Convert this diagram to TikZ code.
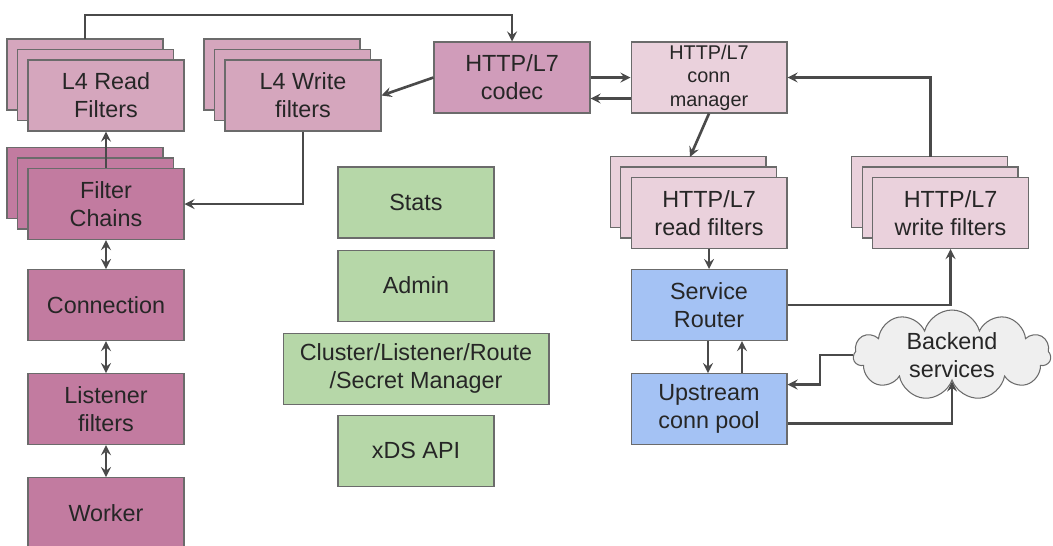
\documentclass[tikz,border=0pt]{standalone}
\usepackage{fontspec}
\setmainfont{Liberation Sans}
\usetikzlibrary{arrows,positioning,calc,shadows,shapes.symbols}
\definecolor{magA}{HTML}{C27BA0}
\definecolor{magB}{HTML}{D5A6BD}
\definecolor{magC}{HTML}{EAD1DC}
\definecolor{codecc}{HTML}{D09CBA}
\definecolor{bluec}{HTML}{A4C2F4}
\definecolor{greenc}{HTML}{B6D7A8}
\definecolor{cloudc}{HTML}{EFEFEF}
\definecolor{edge}{HTML}{6B6B6B}
\definecolor{wire}{HTML}{4A4A4A}
\tikzstyle{block}=[draw=edge, line width=0.6pt, minimum width=3.12cm, minimum height=1.42cm, align=center, text=black!85, font=\fontsize{13.3}{16}\selectfont]
\tikzstyle{stack}=[copy shadow={shadow xshift=-0.42cm,shadow yshift=0.42cm}, copy shadow={shadow xshift=-0.21cm,shadow yshift=0.21cm}]
\tikzstyle{cloudy}=[cloud, cloud puffs=11, cloud ignores aspect, draw=edge, fill=cloudc, line width=0.6pt, inner sep=0pt, minimum width=3.95cm, minimum height=1.8cm]
\tikzstyle{arrow}=[wire, line width=1.5pt, ->, >=stealth]
\tikzstyle{both}=[wire, line width=1.5pt, <->, >=stealth]

\begin{document}
\begin{tikzpicture}[x=0.02cm, y=-0.02cm]
\useasboundingbox (0,0) rectangle (1053,545);
% listener side
\node (lrd) [block, stack, fill=magB] at (106,95.5) {L4 Read\\Filters};
\node (lwr) [block, stack, fill=magB] at (303,95.5) {L4 Write\\filters};
\node (fch) [block, stack, fill=magA] at (106,204) {Filter\\Chains};
\node (conn) [block, fill=magA, below=0.58cm of fch] {Connection};
\node (lis) [block, fill=magA, below=0.64cm of conn] {Listener\\filters};
\node (wrk) [block, fill=magA, below=0.64cm of lis] {Worker};
% http side
\node (codec) [block, fill=codecc] at (512,77.5) {HTTP/L7\\codec};
\node (mgr) [block, fill=magC, inner ysep=0pt, font=\fontsize{11.3}{13.3}\selectfont] at (709,77.5) {HTTP/L7\\conn\\manager};
\node (hrd) [block, stack, fill=magC] at (709,213) {HTTP/L7\\read filters};
\node (hwr) [block, stack, fill=magC] at (950.5,213) {HTTP/L7\\write filters};
\node (rtr) [block, fill=bluec, below=0.4cm of hrd] {Service\\Router};
\node (ups) [block, fill=bluec, below=0.64cm of rtr] {Upstream\\conn pool};
\node (bk) [cloudy, label={[align=center, text=black!85, font=\fontsize{13.3}{16}\selectfont]center:Backend\\services}] at (952,355) {};
% main thread pieces
\node (stats) [block, fill=greenc] at (416,202.5) {Stats};
\node (adm) [block, fill=greenc, below=0.22cm of stats] {Admin};
\node (clm) [block, fill=greenc, minimum width=5.32cm, below=0.22cm of adm] {Cluster/Listener/Route\\/Secret Manager};
\node (xds) [block, fill=greenc, below=0.2cm of clm] {xDS API};

\coordinate (rdback) at ($(lrd.north)+(-21,-20)$);
\coordinate (topy) at (300,15);
\coordinate (hrdback) at ($(hrd.north)+(-19,-20)$);
\coordinate (hwrback) at ($(hwr.north)+(-20,-20)$);

\draw[arrow] (rdback) |- (topy) -| (codec.north);
\draw[arrow] (codec.west) -- (lwr.east);
\draw[arrow] (codec.east) -- (mgr.west);
\draw[arrow] ([yshift=-0.42cm]mgr.west) -- ([yshift=-0.42cm]codec.east);
\draw[arrow] (mgr.south) -- (hrdback);
\draw[arrow] (hrd) -- (rtr);
\draw[arrow] ([xshift=-0.02cm]rtr.south) -- ([xshift=-0.02cm]ups.north);
\draw[arrow] ([xshift=0.66cm]ups.north) -- ([xshift=0.66cm]rtr.south);
\draw[arrow] (rtr.east) -| (hwr.south);
\draw[arrow] (hwrback) |- (mgr.east);
\draw[arrow] (bk.west) -- ++(-33,0) |- ([yshift=0.49cm]ups.east);
\draw[arrow] ([yshift=-0.29cm]ups.east) -| (bk.south);
\draw[arrow] (lwr.south) |- (fch.east);
\draw[arrow] (fch) -- (lrd);
\draw[both] (fch) -- (conn);
\draw[both] (conn) -- (lis);
\draw[both] (lis) -- (wrk);
\end{tikzpicture}
\end{document}
